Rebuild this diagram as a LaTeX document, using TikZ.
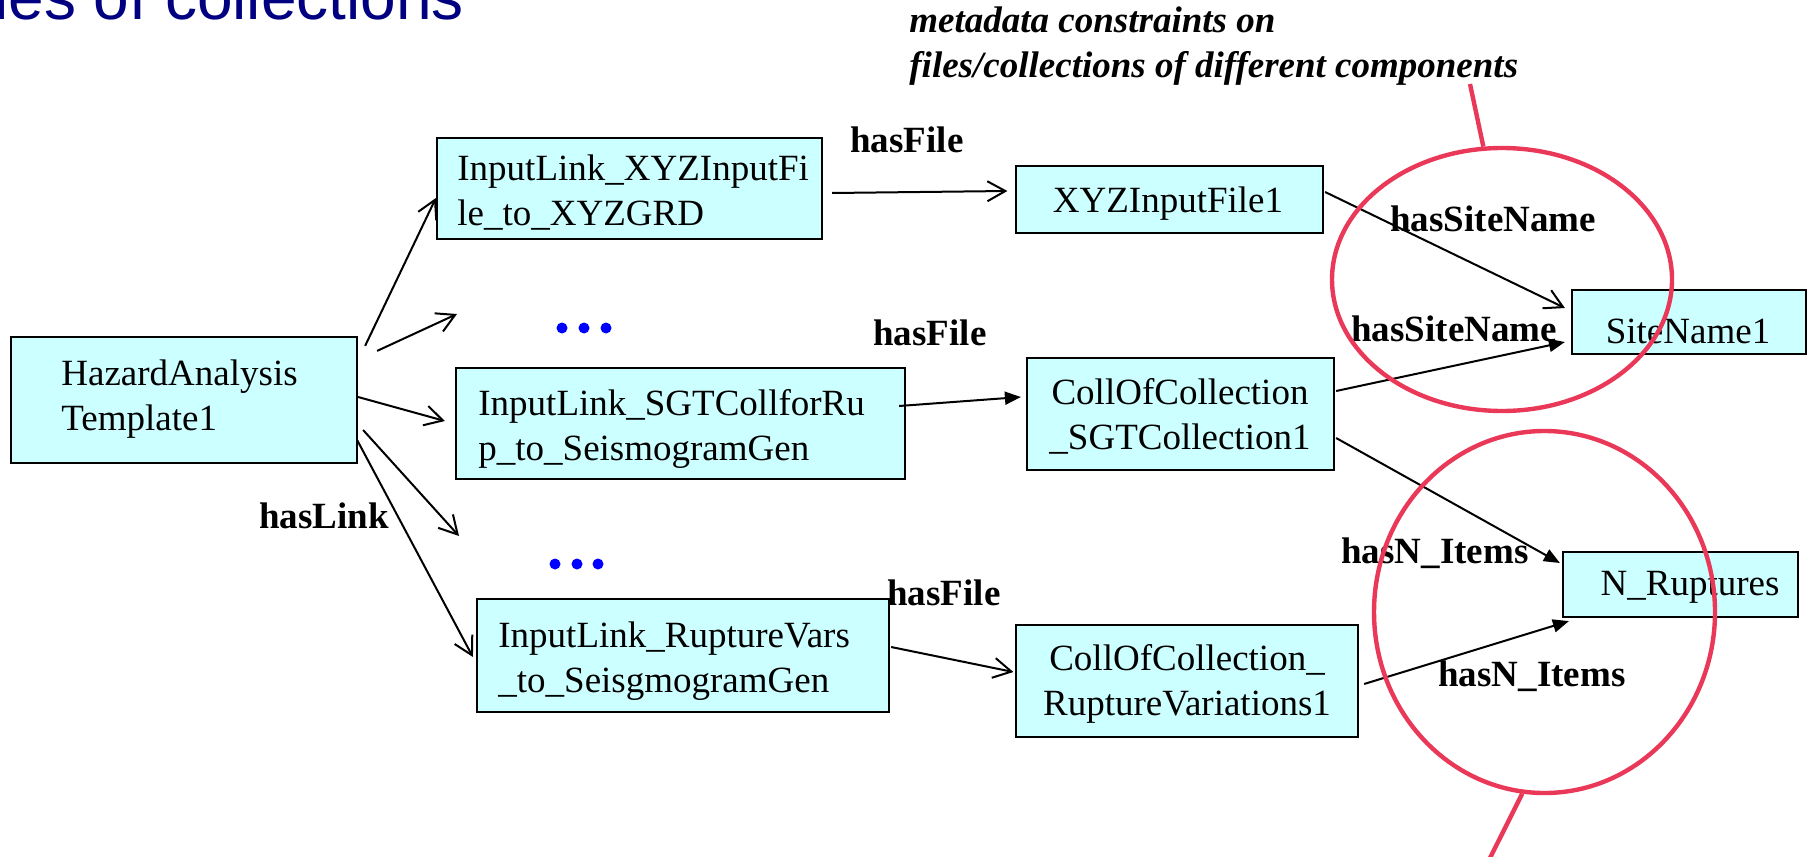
\documentclass[tikz,border=0pt]{standalone}
\usepackage{fontspec}
\setmainfont{Liberation Serif}
\newfontfamily\headfont{Liberation Sans}
\usetikzlibrary{arrows.meta,calc,fit,shapes.geometric}

\definecolor{boxfill}{RGB}{204,255,255}
\definecolor{ringred}{RGB}{234,56,88}
\definecolor{headblue}{RGB}{0,0,128}
\definecolor{dotblue}{RGB}{0,0,255}

% two stacked lines, baseline on the first one
\newcommand{\twoleft}[2]{\begin{tabular}[t]{@{}l@{}}#1\\#2\end{tabular}}
\newcommand{\twomid}[2]{\begin{tabular}[t]{@{}c@{}}#1\\#2\end{tabular}}

\begin{document}
\begin{tikzpicture}[x=0.5pt,y=-0.5pt,
  box/.style={draw=black, line width=1.1pt, fill=boxfill, inner sep=0pt},
  txt/.style={inner sep=0pt, font=\fontsize{18.5pt}{22.5pt}\selectfont},
  rel/.style={inner sep=0pt, anchor=base west, font=\fontsize{18.5pt}{22.5pt}\selectfont\bfseries},
  linkopen/.style={draw=black, line width=1pt, -{Straight Barb[length=9pt,width=10pt,line width=1pt]}},
  linkfull/.style={draw=black, line width=1pt, -{Triangle[length=8pt,width=6.5pt]}},
  ring/.style={ellipse, draw=ringred, line width=2.2pt, inner sep=0pt},
  ringline/.style={draw=ringred, line width=2.2pt},
]
\useasboundingbox (0,0) rectangle (1813,856);
\clip (0,0) rectangle (1813,856);

% heading
\node[anchor=base west, inner sep=0pt, text=headblue,
      font=\headfont\fontsize{32pt}{38pt}\selectfont] (heading) at (-6,20) {les of collections};

% caption of the highlighted constraints
\node[txt, anchor=base west, font=\fontsize{18.5pt}{22.5pt}\selectfont\bfseries\itshape] (caption)
  at (909,33) {\twoleft{metadata constraints on}{files/collections of different components}};

% boxes
\node[box, fit={(11,337) (357,463)}] (hazard) {};
\node[box, fit={(437,138) (822,239)}] (xyzlink) {};
\node[box, fit={(456,368) (905,479)}] (sgtlink) {};
\node[box, fit={(477,599) (889,712)}] (rvlink) {};
\node[box, fit={(1016,166) (1323,233)}] (xyzfile) {};
\node[box, fit={(1027,358) (1334,470)}] (collsgt) {};
\node[box, fit={(1016,625) (1358,737)}] (collrv) {};
\node[box, fit={(1572,290) (1806,354)}] (site) {};
\node[box, fit={(1563,552) (1798,617)}] (nrup) {};

% box texts
\node[txt, anchor=base west] (hazardT) at (61,385) {\twoleft{HazardAnalysis}{Template1}};
\node[txt, anchor=base west] (xyzlinkT) at (457,180) {\twoleft{InputLink\_XYZInputFi}{le\_to\_XYZGRD}};
\node[txt, anchor=base west] (sgtlinkT) at (478,415) {\twoleft{InputLink\_SGTCollforRu}{p\_to\_SeismogramGen}};
\node[txt, anchor=base west] (rvlinkT) at (498,647) {\twoleft{InputLink\_RuptureVars}{\_to\_SeisgmogramGen}};
\node[txt, anchor=base] (xyzfileT) at (1168,212) {XYZInputFile1};
\node[txt, anchor=base] (collsgtT) at (1180,404) {\twomid{CollOfCollection}{\_SGTCollection1}};
\node[txt, anchor=base] (collrvT) at (1187,670) {\twomid{CollOfCollection\_}{RuptureVariations1}};
\node[txt, anchor=base] (siteT) at (1688,343) {SiteName1};
\node[txt, anchor=base] (nrupT) at (1690,595) {N\_Ruptures};

% elided links
\foreach \cx in {562,584,606} \fill[dotblue] (\cx,328) circle [radius=5.5];
\foreach \cx in {555,577,598} \fill[dotblue] (\cx,564) circle [radius=5.5];

% free ends of the elided links
\coordinate (tipA) at (457,314);
\coordinate (tipB) at (459,536);

% hasLink connectors
\draw[linkopen] ($(hazard.north east)+(7,10)$) -- ($(xyzlink.west)+(0,9.5)$);
\draw[linkopen] ($(hazard.north east)+(19,15)$) -- (tipA);
\draw[linkopen] ($(hazard.east)+(0,-3)$) -- ($(sgtlink.west)+(-10,-2.5)$);
\draw[linkopen] ($(hazard.east)+(5,30)$) -- (tipB);
\draw[linkopen] ($(hazard.east)+(-1,40)$) -- ($(rvlink.west)+(-3,1.5)$);

% hasFile connectors
\draw[linkopen] ($(xyzlink.east)+(9,4.5)$) -- ($(xyzfile.west)+(-7.5,-8.5)$);
\draw[linkfull] ($(sgtlink.east)+(-7,-17.5)$) -- ($(collsgt.west)+(-5,-17)$);
\draw[linkopen] ($(rvlink.east)+(1,-8.5)$) -- ($(collrv.west)+(-1.5,-9)$);

% hasSiteName / hasN_Items connectors
\draw[linkopen] ($(xyzfile.east)+(1,-7.5)$) -- ($(site.west)+(-6,-14)$);
\draw[linkfull] ($(collsgt.east)+(1,-23)$) -- ($(site.west)+(-6,20)$);
\draw[linkfull] ($(collsgt.east)+(1,24)$) -- ($(nrup.west)+(-2,-21.5)$);
\draw[linkfull] ($(collrv.east)+(5,3)$) -- ($(nrup.south west)+(7,3)$);

% relation labels
\node[rel] (lblLink) at (259,528) {hasLink};
\node[rel] (lblFileA) at (850,152) {hasFile};
\node[rel] (lblFileB) at (873,345) {hasFile};
\node[rel] (lblFileC) at (887,605) {hasFile};
\node[rel] (lblSiteA) at (1390,231) {hasSiteName};
\node[rel] (lblSiteB) at (1351,341) {hasSiteName};
\node[rel] (lblItemsA) at (1341,563) {hasN\_Items};
\node[rel] (lblItemsB) at (1438,686) {hasN\_Items};

% highlight rings with their pointers
\node[ring, minimum width=170pt, minimum height=131.5pt] (ringA) at (1502,279.5) {};
\node[ring, minimum width=170.5pt, minimum height=181pt] (ringB) at (1544.5,612) {};
\coordinate (capA) at (1470,84);
\coordinate (capB) at (1488,862);
\draw[ringline] (ringA.98) -- (capA);
\draw[ringline] (ringB.263) -- (capB);
\end{tikzpicture}
\end{document}
